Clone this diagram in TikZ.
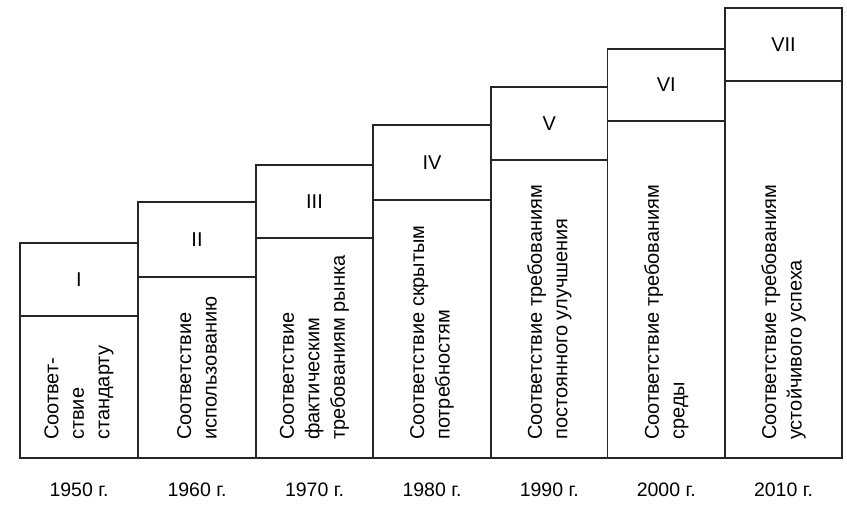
\documentclass[tikz,border=0pt]{standalone}
\usepackage{fontspec}
\setmainfont{Liberation Sans}
\begin{document}
\begin{tikzpicture}[x=1pt,y=-1pt,
  box/.style={draw=black!85,line width=1.3pt},
  numtext/.style={inner sep=0pt,font=\fontsize{20}{23}\selectfont},
  bodytext/.style={inner sep=0pt,rotate=90,anchor=west,align=left,font=\fontsize{20}{25.5}\selectfont},
  yeartext/.style={inner sep=0pt,font=\fontsize{19.5}{22}\selectfont}]
\useasboundingbox (0,0) rectangle (847,504);
\fill[white] (0,0) rectangle (847,504);
\def\bot{458}
\def\ty{440}
% columns: left, right, top, divider
\foreach \i/\l/\r/\t/\d/\num/\yr in {
  1/20/138/243/316/I/1950,
  2/138/256/202/277/II/1960,
  3/256/373/165/238/III/1970,
  4/373/491/125/200/IV/1980,
  5/491/607.5/87/160/V/1990,
  6/607.5/725/49/121/VI/2000,
  7/725/842/8/81/VII/2010}{
  \draw[box] (\l,\t) rectangle (\r,\bot);
  \draw[box] (\l,\d) -- (\r,\d);
  \node[numtext] (n\i) at ({(\l+\r)/2},{(\t+\d)/2}) {\num};
  \node[yeartext] (y\i) at ({(\l+\r)/2},490) {\yr\ г.};
  \coordinate (c\i) at ({(\l+\r)/2},\ty);
}
\node[bodytext] (b1) at (c1) {Соответ-\\ствие\\стандарту};
\node[bodytext] (b2) at (c2) {Соответствие\\использованию};
\node[bodytext] (b3) at (c3) {Соответствие\\фактическим\\требованиям рынка};
\node[bodytext] (b4) at (c4) {Соответствие скрытым\\потребностям};
\node[bodytext] (b5) at (c5) {Соответствие требованиям\\постоянного улучшения};
\node[bodytext] (b6) at (c6) {Соответствие требованиям\\среды};
\node[bodytext] (b7) at (c7) {Соответствие требованиям\\устойчивого успеха};
\end{tikzpicture}
\end{document}
